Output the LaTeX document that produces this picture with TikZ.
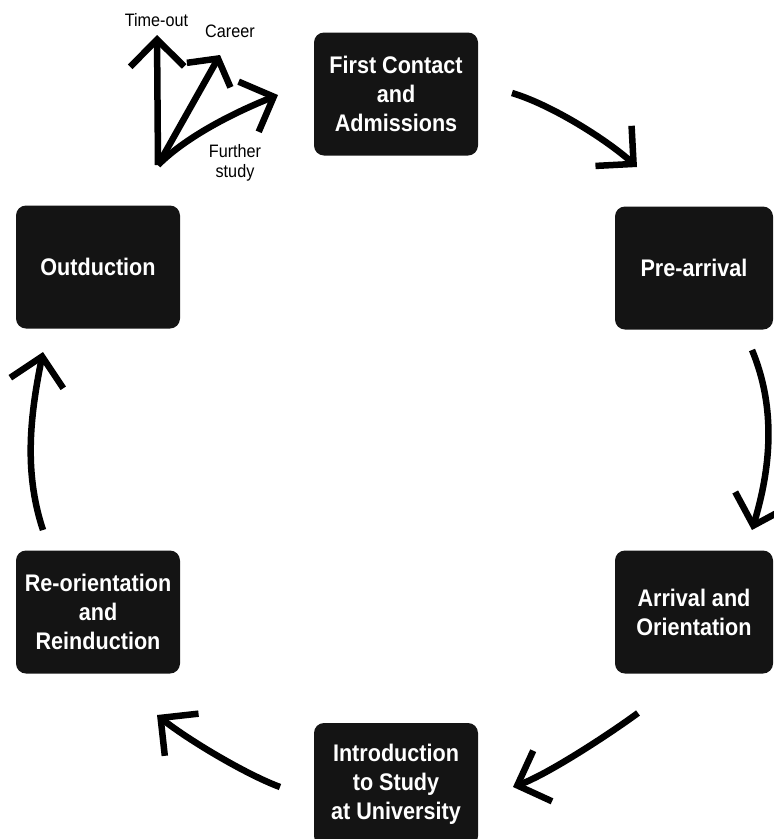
\documentclass[tikz,border=0pt]{standalone}
\usepackage{fontspec}
\usepackage{xcolor}
\usetikzlibrary{arrows.meta}
\newfontfamily\boxfont{Liberation Sans}[FakeStretch=0.9]
\newfontfamily\labfont{Liberation Sans}[FakeStretch=0.9]
\definecolor{stagedark}{HTML}{141414}
\tikzset{
    stage/.style={fill=stagedark, rounded corners=10pt, text=white, align=center,
        inner sep=0pt, minimum width=164pt, minimum height=123pt,
        font=\boxfont\bfseries\fontsize{24}{29}\selectfont},
    flow/.style={line width=6.5pt,
        -{Straight Barb[length=27pt,width=54pt,line join=miter,line cap=butt]}},
    choice/.style={align=center, inner sep=0pt, font=\labfont\fontsize{18}{20}\selectfont}
}

\begin{document}
\begin{tikzpicture}[x=1pt,y=-1pt]
    \useasboundingbox (0,0) rectangle (774,839);
    % Stages of the cycle
    \node[stage] (fc) at (396,94) {First Contact\\and\\Admissions};
    \node[stage, minimum width=158pt] (pre) at (694,268) {Pre-arrival};
    \node[stage, minimum width=158pt] (arr) at (694,612) {Arrival and\\Orientation};
    \node[stage] (intro) at (396,784.5) {Introduction\\to Study\\at University};
    \node[stage] (reo) at (98,612) {Re-orientation\\and\\Reinduction};
    \node[stage] (out) at (98,267) {Outduction};
    % Ends of the arrows between stages
    \coordinate (fcA) at (512,93);   \coordinate (preB) at (637,167);
    \coordinate (preA) at (752,350); \coordinate (arrB) at (752,530);
    \coordinate (arrA) at (638,713); \coordinate (introB) at (513,787);
    \coordinate (introA) at (280,787); \coordinate (reoB) at (157,715);
    \coordinate (reoA) at (43,530);  \coordinate (outB) at (43,352);
    \draw[flow] (fcA) .. controls +(40,12) and +(-30,-27) .. (preB);
    \draw[flow] (preA) .. controls +(25,60) and +(18,-60) .. (arrB);
    \draw[flow] (arrA) .. controls +(-30,22) and +(35,-13) .. (introB);
    \draw[flow] (introA) .. controls +(-35,-13) and +(30,24) .. (reoB);
    \draw[flow] (reoA) .. controls +(-20,-60) and +(-12,60) .. (outB);
    % Ways out after Outduction
    \node[choice] (tout) at (156.5,20) {Time-out};
    \node[choice] (car) at (230,31) {Career};
    \node[choice] (fur) at (235,163) {Further\\study};
    \coordinate (fan) at (158,165);
    \coordinate (toutB) at (157,35);
    \coordinate (carB) at (220,55);
    \coordinate (furB) at (278,95);
    \draw[flow] (fan) -- (toutB);
    \draw[flow, -{Straight Barb[length=19pt,width=50pt,line join=miter,line cap=butt]}] (fan) -- (carB);
    \draw[flow] (fan) .. controls +(30,-30) and +(-40,16) .. (furB);
\end{tikzpicture}
\end{document}
